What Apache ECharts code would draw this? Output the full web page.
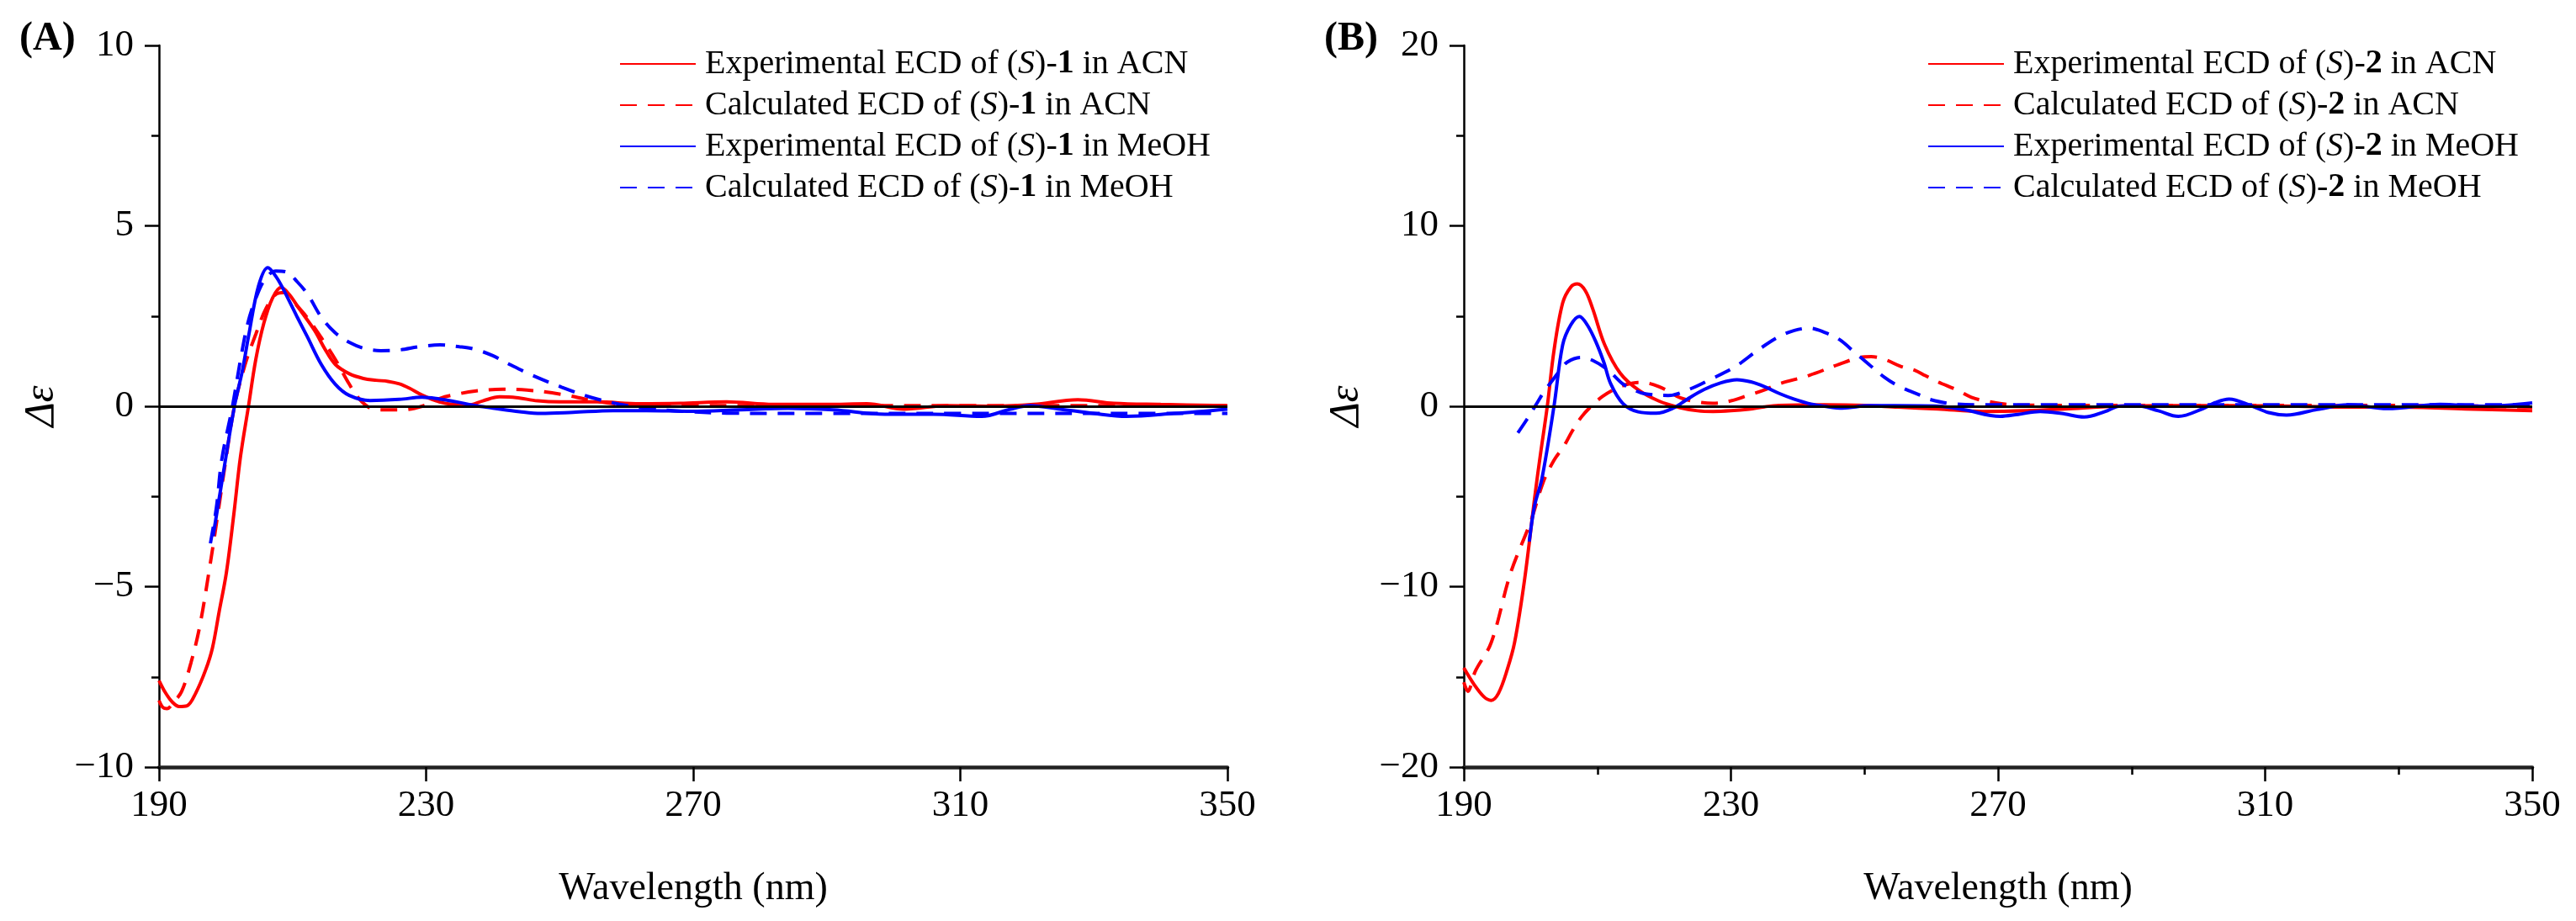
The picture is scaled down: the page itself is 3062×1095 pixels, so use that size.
<!DOCTYPE html>
<html>
<head>
<meta charset="utf-8">
<title>ECD spectra of (S)-1 and (S)-2</title>
<script src="https://cdn.jsdelivr.net/npm/echarts@6.0.0/dist/echarts.min.js"></script>
<style>
  html, body { margin: 0; padding: 0; background: #fff; }
  #chart { width: 3062px; height: 1095px; }
</style>
</head>
<body>
<div id="chart"></div>
<script>
// ---- panel (A): compound 1 ----
const wlExpAcn1  = [190, 191, 192, 193, 194.2, 195.5, 197, 198, 199, 200.1, 201.2, 202.2, 203.4, 204.5, 205.7, 207, 208.3, 209.5, 211, 213.3, 214.8, 216.4, 218.5, 220.6, 222.5, 224.3, 226, 227.5, 229.5, 232, 234, 236.3, 238.5, 241, 243.5, 246.7, 250, 255.6, 262, 268, 275, 282, 290, 296, 301.6, 308, 315, 321, 327.6, 333, 340, 350];
const deExpAcn1  = [-7.6, -7.95, -8.2, -8.32, -8.3, -7.95, -7.3, -6.7, -5.7, -4.6, -3.0, -1.4, 0, 1.3, 2.3, 3.0, 3.29, 3.1, 2.7, 2.1, 1.6, 1.16, 0.9, 0.77, 0.72, 0.69, 0.62, 0.5, 0.3, 0.12, 0.05, 0.03, 0.15, 0.26, 0.24, 0.15, 0.12, 0.12, 0.07, 0.08, 0.12, 0.05, 0.05, 0.07, -0.08, 0.02, 0, 0.05, 0.18, 0.08, 0.05, 0.02];

const wlCalcAcn1 = [190, 190.6, 191.2, 192.2, 193.4, 194.8, 196.1, 197.6, 198.8, 199.8, 201.3, 202.9, 204.5, 206, 207.5, 208.8, 210.1, 212, 214.3, 216.4, 218.5, 220, 221.6, 223.2, 226.3, 229.4, 232.1, 234.5, 237.3, 241.5, 245.1, 250.3, 254.6, 258.2, 263, 270, 290, 320, 350];
const deCalcAcn1 = [-8.15, -8.35, -8.38, -8.2, -7.9, -7.1, -6.1, -4.45, -3.0, -1.74, 0, 1.16, 2.0, 2.7, 3.1, 3.15, 2.9, 2.5, 1.9, 1.3, 0.61, 0.2, -0.05, -0.1, -0.1, 0, 0.22, 0.33, 0.42, 0.47, 0.45, 0.33, 0.17, 0.07, 0.03, 0.02, 0.02, 0.02, 0.02];

const wlExpMeoh1  = [198.1, 199.5, 201.3, 202.5, 203.4, 204.9, 206.3, 207.5, 208.6, 210.7, 212.2, 214.3, 216.4, 218.5, 221.6, 226, 229.4, 232, 234.6, 237, 240, 244, 247.2, 252, 258, 263, 269.7, 277, 284.2, 291, 298.7, 306, 313.2, 317.5, 320.4, 325, 330, 334.9, 342, 350];
const deExpMeoh1  = [-3.6, -2.0, 0, 1.0, 1.93, 3.33, 3.84, 3.6, 3.25, 2.47, 1.93, 1.16, 0.61, 0.3, 0.16, 0.19, 0.25, 0.2, 0.12, 0.03, -0.05, -0.15, -0.2, -0.17, -0.12, -0.12, -0.14, -0.1, -0.06, -0.1, -0.22, -0.22, -0.28, -0.08, 0.02, -0.08, -0.2, -0.28, -0.2, -0.08];

const wlCalcMeoh1 = [197.7, 198.6, 199.4, 201, 202.3, 203.3, 204.4, 205.8, 207.5, 209.1, 210.7, 212.3, 214.3, 216.3, 218.5, 220.8, 223.2, 226, 229, 232.1, 235, 237.3, 240, 242.5, 246, 250.3, 254.6, 258.9, 263, 268.3, 275, 290, 310, 330, 350];
const deCalcMeoh1 = [-3.8, -2.8, -1.48, 0, 1.39, 2.3, 2.94, 3.5, 3.75, 3.72, 3.45, 3.09, 2.47, 2.05, 1.77, 1.6, 1.54, 1.56, 1.65, 1.7, 1.65, 1.58, 1.4, 1.16, 0.85, 0.53, 0.25, 0.06, -0.06, -0.14, -0.19, -0.2, -0.2, -0.2, -0.2];

// ---- panel (B): compound 2 ----
const wlExpAcn2  = [190, 191.5, 193, 194.1, 195.2, 196.5, 197.6, 199.1, 200.7, 201.5, 202.5, 203.5, 204.8, 206, 207, 208.2, 209.3, 211.1, 213.4, 216.1, 219.2, 222.4, 225, 227.3, 230, 232.7, 235, 237.2, 244, 250, 255, 261, 267.7, 274.3, 280, 287.5, 295, 305, 315, 322, 330, 340, 350];
const deExpAcn2  = [-14.5, -15.4, -16.1, -16.3, -15.9, -14.6, -13.1, -9.6, -4.8, -2.6, 0, 3.08, 5.72, 6.6, 6.78, 6.4, 5.4, 3.4, 1.84, 0.91, 0.29, -0.08, -0.25, -0.29, -0.25, -0.16, -0.03, 0.05, 0.08, 0.05, -0.05, -0.15, -0.29, -0.25, -0.15, 0, 0.03, 0.03, 0, -0.05, -0.05, -0.15, -0.25];

const wlCalcAcn2 = [190, 190.6, 191.7, 194.1, 197, 200, 201.9, 203.5, 205, 206.2, 207.6, 209.3, 210.8, 212.5, 214.3, 216.1, 217.6, 219.2, 220.8, 222.4, 224.8, 227.3, 230, 232.7, 235, 237.2, 241.7, 246.2, 249.4, 251, 253, 255.5, 257.5, 259.1, 261, 263.8, 266, 268.4, 273, 280, 300, 320, 340, 350];
const deCalcAcn2 = [-15.3, -15.8, -14.7, -13.1, -9.25, -6.4, -4.2, -3.0, -2.2, -1.4, -0.6, 0.08, 0.55, 0.93, 1.2, 1.32, 1.28, 1.09, 0.8, 0.47, 0.25, 0.16, 0.3, 0.62, 0.9, 1.24, 1.71, 2.33, 2.71, 2.75, 2.6, 2.2, 2.0, 1.7, 1.35, 0.91, 0.5, 0.27, 0.06, 0.05, 0.05, 0.05, 0.02, -0.05];

const wlExpMeoh2  = [199.8, 200.6, 201.7, 203.5, 204.8, 206, 207.3, 208.5, 209.8, 211, 212, 213.8, 216.1, 218.8, 221.5, 223.5, 226, 228.5, 230.9, 233, 235, 237.3, 239.5, 242, 244, 246.7, 250.7, 254.5, 261.1, 265, 270.3, 273, 276.3, 279.5, 282.9, 286, 288.1, 290.8, 294, 297, 300.7, 302.5, 304.6, 307.9, 310.5, 313.2, 317.8, 322.4, 328.3, 336.2, 342.8, 350];
const deExpMeoh2  = [-7.5, -5.5, -4.0, 0, 3.4, 4.5, 4.98, 4.5, 3.55, 2.4, 1.24, 0.16, -0.31, -0.39, -0.08, 0.4, 0.93, 1.3, 1.47, 1.35, 1.09, 0.7, 0.39, 0.12, 0, -0.1, 0.03, 0.03, 0, -0.2, -0.56, -0.45, -0.29, -0.4, -0.6, -0.3, 0, 0.03, -0.25, -0.56, -0.13, 0.2, 0.4, 0.03, -0.35, -0.49, -0.18, 0.08, -0.13, 0.11, 0, 0.19];

const wlCalcMeoh2 = [198.1, 199.5, 200.8, 202, 203.5, 204.4, 205.5, 207.5, 209.3, 211.6, 213.8, 215.5, 217, 220.6, 223.7, 227, 230.5, 234, 237.2, 239.5, 241.7, 244, 246.2, 248.5, 250.7, 253, 255.2, 258.5, 259.7, 263.1, 268, 280, 300, 320, 340, 350];
const deCalcMeoh2 = [-1.47, -0.7, 0.08, 0.8, 1.55, 2.0, 2.45, 2.7, 2.54, 2.0, 1.24, 0.9, 0.7, 0.6, 0.93, 1.5, 2.16, 3.1, 3.86, 4.2, 4.33, 4.1, 3.71, 3.0, 2.31, 1.6, 1.1, 0.59, 0.39, 0.14, 0.08, 0.08, 0.08, 0.08, 0.08, 0.08];

// axis ticks
const xTicks = [190, 230, 270, 310, 350];
const xMinorTicksB = [210, 250, 290, 330];

const namesA = [
  'Experimental ECD of (S)-1 in ACN',
  'Calculated ECD of (S)-1 in ACN',
  'Experimental ECD of (S)-1 in MeOH',
  'Calculated ECD of (S)-1 in MeOH'
];
const namesB = [
  'Experimental ECD of (S)-2 in ACN',
  'Calculated ECD of (S)-2 in ACN',
  'Experimental ECD of (S)-2 in MeOH',
  'Calculated ECD of (S)-2 in MeOH'
];

const FONT = "'Liberation Serif', 'DejaVu Serif', serif";
const RED = '#ff0000';
const BLUE = '#0000ff';
const DASH = [20, 13];

function pairs(xs, ys) {
  return xs.map(function (x, i) { return [x, ys[i]]; });
}

function minusFmt(v) {
  return v < 0 ? '\u2212' + Math.abs(v) : String(v);
}

function legendFmt(name) {
  // (S) in italics, compound number in bold
  return name.replace(/\(S\)-(\d)/, '({i|S})-{b|$1}');
}

function makeSeries(name, grid, xs, ys, color, dashed) {
  return {
    name: name,
    type: 'line',
    xAxisIndex: grid === 0 ? 0 : 1,
    yAxisIndex: grid,
    data: pairs(xs, ys),
    smooth: 0.35,
    symbol: 'none',
    clip: true,
    lineStyle: { color: color, width: 4, type: dashed ? DASH : 'solid' },
    itemStyle: { color: color }
  };
}

const zeroLine = {
  silent: true,
  symbol: 'none',
  animation: false,
  label: { show: false },
  lineStyle: { color: '#000', width: 3, type: 'solid' },
  data: [{ yAxis: 0 }]
};

function xAxisMain(grid) {
  return {
    gridIndex: grid,
    type: 'value',
    position: 'bottom',
    min: 190,
    max: 350,
    axisLine: { onZero: false, lineStyle: { color: '#222', width: 4.5 } },
    axisTick: { customValues: xTicks, length: 17, lineStyle: { color: '#000', width: 2.5 } },
    axisLabel: { customValues: xTicks, margin: 24, fontSize: 45, color: '#000', fontFamily: FONT },
    splitLine: { show: false },
    name: 'Wavelength (nm)',
    nameLocation: 'middle',
    nameGap: 122,
    nameTextStyle: { fontSize: 46, color: '#000', fontFamily: FONT }
  };
}

function yAxisMain(grid, lim, step) {
  return {
    gridIndex: grid,
    type: 'value',
    min: -lim,
    max: lim,
    interval: step,
    axisLine: { show: true, onZero: false, lineStyle: { color: '#000', width: 2.5 } },
    axisTick: { show: true, length: 17, lineStyle: { color: '#000', width: 2.5 } },
    minorTick: { show: true, splitNumber: 2, length: 9, lineStyle: { color: '#000', width: 2.5 } },
    axisLabel: { margin: 30, fontSize: 45, color: '#000', fontFamily: FONT, formatter: minusFmt },
    splitLine: { show: false },
    name: '\u0394\u03b5',
    nameLocation: 'middle',
    nameGap: 114,
    nameTextStyle: { fontSize: 50, fontStyle: 'italic', color: '#000', fontFamily: FONT }
  };
}

function legendAt(left, names) {
  return {
    data: names,
    orient: 'vertical',
    left: left,
    top: 51,
    itemWidth: 90,
    itemHeight: 14,
    itemGap: 9,
    itemStyle: { opacity: 0 },
    formatter: legendFmt,
    textStyle: {
      fontSize: 40,
      lineHeight: 40,
      color: '#000',
      fontFamily: FONT,
      padding: [0, 0, 0, 6],
      rich: {
        i: { fontSize: 40, fontStyle: 'italic', fontFamily: FONT, color: '#000' },
        b: { fontSize: 40, fontWeight: 'bold', fontFamily: FONT, color: '#000' }
      }
    }
  };
}

const chart = echarts.init(document.getElementById('chart'), null, { renderer: 'canvas' });

const seriesList = [
  makeSeries(namesA[0], 0, wlExpAcn1, deExpAcn1, RED, false),
  makeSeries(namesA[1], 0, wlCalcAcn1, deCalcAcn1, RED, true),
  makeSeries(namesA[2], 0, wlExpMeoh1, deExpMeoh1, BLUE, false),
  makeSeries(namesA[3], 0, wlCalcMeoh1, deCalcMeoh1, BLUE, true),
  makeSeries(namesB[0], 1, wlExpAcn2, deExpAcn2, RED, false),
  makeSeries(namesB[1], 1, wlCalcAcn2, deCalcAcn2, RED, true),
  makeSeries(namesB[2], 1, wlExpMeoh2, deExpMeoh2, BLUE, false),
  makeSeries(namesB[3], 1, wlCalcMeoh2, deCalcMeoh2, BLUE, true)
];
seriesList[0].markLine = zeroLine;
seriesList[4].markLine = zeroLine;

chart.setOption({
  animation: false,
  backgroundColor: '#fff',
  title: [
    { text: '(A)', left: 18, top: 18, textStyle: { fontSize: 48, fontWeight: 'bold', color: '#000', fontFamily: FONT } },
    { text: '(B)', left: 1569, top: 18, textStyle: { fontSize: 48, fontWeight: 'bold', color: '#000', fontFamily: FONT } }
  ],
  legend: [legendAt(731, namesA), legendAt(2286, namesB)],
  grid: [
    { left: 189, top: 54, width: 1270, height: 858 },
    { left: 1740, top: 54, width: 1270, height: 858 }
  ],
  xAxis: [
    xAxisMain(0),
    xAxisMain(1),
    {
      // minor ticks on the bottom axis of panel B
      gridIndex: 1,
      type: 'value',
      position: 'bottom',
      min: 190,
      max: 350,
      axisLine: { show: false, onZero: false },
      axisTick: { customValues: xMinorTicksB, length: 9, lineStyle: { color: '#000', width: 2.5 } },
      axisLabel: { show: false },
      splitLine: { show: false }
    }
  ],
  yAxis: [yAxisMain(0, 10, 5), yAxisMain(1, 20, 10)],
  series: seriesList
});
</script>
</body>
</html>
